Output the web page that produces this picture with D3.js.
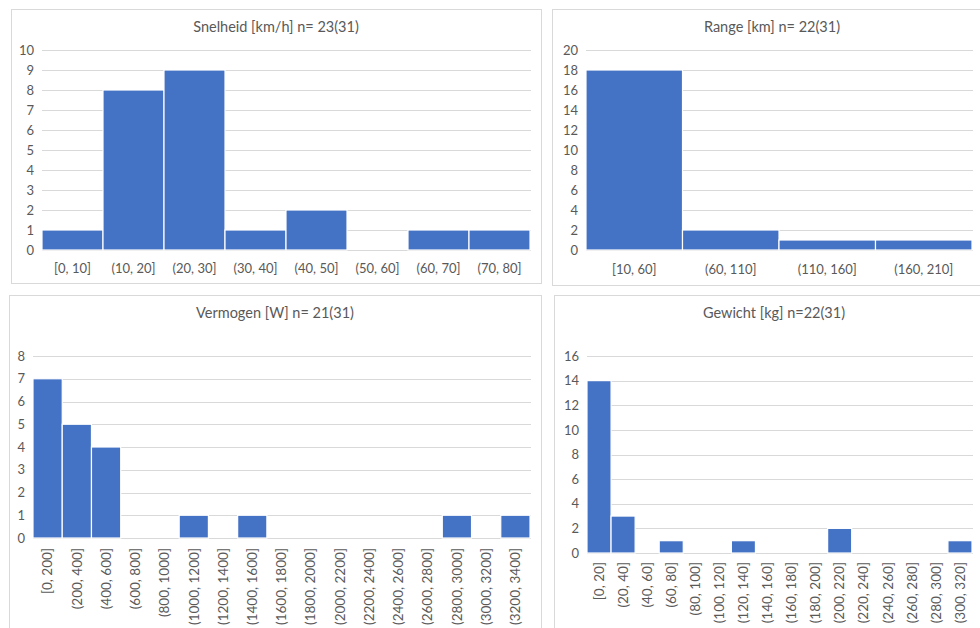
<!DOCTYPE html>
<html>
<head>
<meta charset="utf-8">
<script src="https://cdn.jsdelivr.net/npm/d3@7/dist/d3.min.js"></script>
<style>
  html, body { margin: 0; padding: 0; background: #ffffff; }
  svg { display: block; }
  text { font-family: Lato, "Open Sans", "Liberation Sans", sans-serif; fill: #595959; }
</style>
</head>
<body>
<svg id="chart" width="980" height="628"></svg>
<script>
// ---------- DATA ----------
const snelheidTitle = "Snelheid [km/h] n= 23(31)";
const snelheidCategories = ["[0, 10]", "(10, 20]", "(20, 30]", "(30, 40]", "(40, 50]", "(50, 60]", "(60, 70]", "(70, 80]"];
const snelheidCounts = [1, 8, 9, 1, 2, 0, 1, 1];
const snelheidTicks = [0, 1, 2, 3, 4, 5, 6, 7, 8, 9, 10];

const rangeTitle = "Range [km] n= 22(31)";
const rangeCategories = ["[10, 60]", "(60, 110]", "(110, 160]", "(160, 210]"];
const rangeCounts = [18, 2, 1, 1];
const rangeTicks = [0, 2, 4, 6, 8, 10, 12, 14, 16, 18, 20];

const vermogenTitle = "Vermogen [W] n= 21(31)";
const vermogenCategories = ["[0, 200]", "(200, 400]", "(400, 600]", "(600, 800]", "(800, 1000]", "(1000, 1200]", "(1200, 1400]", "(1400, 1600]", "(1600, 1800]", "(1800, 2000]", "(2000, 2200]", "(2200, 2400]", "(2400, 2600]", "(2600, 2800]", "(2800, 3000]", "(3000, 3200]", "(3200, 3400]"];
const vermogenCounts = [7, 5, 4, 0, 0, 1, 0, 1, 0, 0, 0, 0, 0, 0, 1, 0, 1];
const vermogenTicks = [0, 1, 2, 3, 4, 5, 6, 7, 8];

const gewichtTitle = "Gewicht [kg] n=22(31)";
const gewichtCategories = ["[0, 20]", "(20, 40]", "(40, 60]", "(60, 80]", "(80, 100]", "(100, 120]", "(120, 140]", "(140, 160]", "(160, 180]", "(180, 200]", "(200, 220]", "(220, 240]", "(240, 260]", "(260, 280]", "(280, 300]", "(300, 320]"];
const gewichtCounts = [14, 3, 0, 1, 0, 0, 1, 0, 0, 0, 2, 0, 0, 0, 0, 1];
const gewichtTicks = [0, 2, 4, 6, 8, 10, 12, 14, 16];

// ---------- DRAWING ----------
const svg = d3.select("#chart");
const BAR = "#4472C4", GRID = "#D9D9D9", BORDER = "#D9D9D9";
const FONT = "Lato, 'Open Sans', sans-serif";

function panel(opts) {
  const { box, plot, title, titleY, cats, counts, ticks, rotate, labelY } = opts;
  svg.append("rect")
    .attr("x", box.x + 0.5).attr("y", box.y + 0.5)
    .attr("width", box.w).attr("height", box.h)
    .attr("fill", "#fff").attr("stroke", BORDER).attr("stroke-width", 1);
  svg.append("text")
    .attr("x", box.x + box.w / 2).attr("y", titleY)
    .attr("text-anchor", "middle")
    .style("font-size", "14.5px")
    .text(title);

  const x = d3.scaleBand().domain(cats).range([plot.x0, plot.x1]).paddingInner(0).paddingOuter(0);
  const y = d3.scaleLinear().domain([0, d3.max(ticks)]).range([plot.y0, plot.y1]);

  const g = svg.append("g");
  g.selectAll("line.grid").data(ticks).join("line")
    .attr("x1", plot.x0).attr("x2", plot.x1 + 1)
    .attr("y1", d => Math.round(y(d)) + 0.5).attr("y2", d => Math.round(y(d)) + 0.5)
    .attr("stroke", GRID).attr("stroke-width", 1);

  const yAxis = d3.axisLeft(y).tickValues(ticks).tickSize(0).tickPadding(0);
  const ya = g.append("g").attr("transform", `translate(${plot.x0 - 8},0)`).call(yAxis);
  ya.select(".domain").remove();
  ya.selectAll("text").style("font-size", "13px").attr("fill", "#595959").style("font-family", FONT);

  g.selectAll("rect.bar").data(cats).join("rect")
    .attr("x", d => x(d))
    .attr("width", x.bandwidth())
    .attr("y", (d, i) => y(counts[i]))
    .attr("height", (d, i) => y(0) - y(counts[i]))
    .attr("fill", BAR)
    .attr("stroke", "#fff").attr("stroke-width", 1.2);

  const xAxis = d3.axisBottom(x).tickSize(0).tickPadding(0);
  const xa = g.append("g").attr("transform", `translate(0,${labelY})`).call(xAxis);
  xa.select(".domain").remove();
  const xt = xa.selectAll("text").style("font-size", rotate ? "13.5px" : "13px").attr("fill", "#595959").style("font-family", FONT);
  if (rotate) {
    xt.attr("transform", "rotate(-90)")
      .attr("text-anchor", "end")
      .attr("x", 0).attr("y", 0).attr("dy", "0.35em");
  } else {
    xt.attr("dy", "0.35em");
  }
}

panel({
  box: { x: 11, y: 9, w: 530, h: 274 },
  plot: { x0: 42, x1: 530, y0: 250, y1: 50 },
  title: snelheidTitle, titleY: 32,
  cats: snelheidCategories, counts: snelheidCounts, ticks: snelheidTicks,
  rotate: false, labelY: 268
});
panel({
  box: { x: 552, y: 9, w: 440, h: 276 },
  plot: { x0: 586, x1: 972, y0: 250, y1: 50 },
  title: rangeTitle, titleY: 32,
  cats: rangeCategories, counts: rangeCounts, ticks: rangeTicks,
  rotate: false, labelY: 269
});
panel({
  box: { x: 9, y: 295, w: 532, h: 345 },
  plot: { x0: 33, x1: 530, y0: 538, y1: 356 },
  title: vermogenTitle, titleY: 318,
  cats: vermogenCategories, counts: vermogenCounts, ticks: vermogenTicks,
  rotate: true, labelY: 548
});
panel({
  box: { x: 554, y: 295, w: 440, h: 345 },
  plot: { x0: 587, x1: 972, y0: 553, y1: 356 },
  title: gewichtTitle, titleY: 318,
  cats: gewichtCategories, counts: gewichtCounts, ticks: gewichtTicks,
  rotate: true, labelY: 562
});
</script>
</body>
</html>
